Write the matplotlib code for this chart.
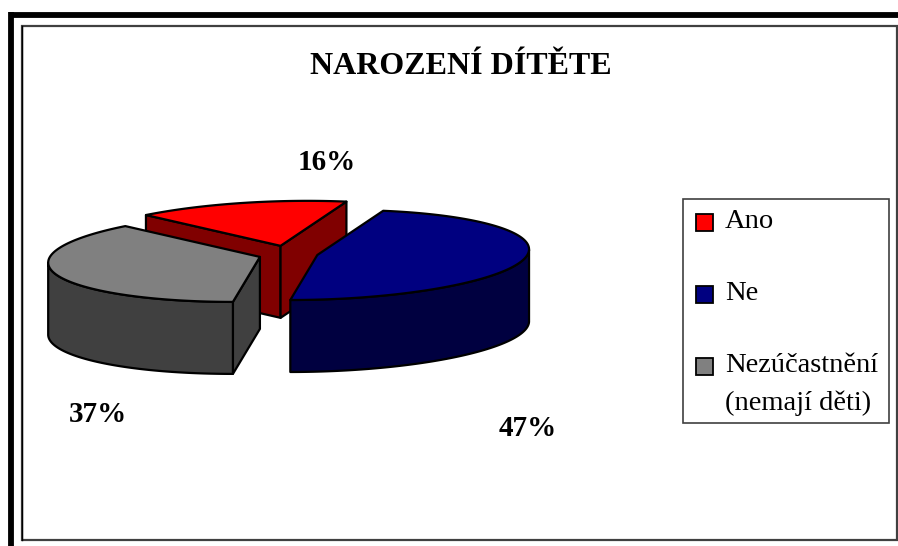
import numpy as np
import matplotlib
matplotlib.use("Agg")
import matplotlib.pyplot as plt
from matplotlib.patches import Polygon, Rectangle

# ---------------- data ----------------
title = "NAROZENÍ DÍTĚTE"
categories = ["Ano", "Ne", "Nezúčastnění\n(nemají děti)"]
values = [16, 47, 37]
pct_labels = ["16%", "47%", "37%"]
top_colors = ["#FF0000", "#000080", "#808080"]
side_colors = ["#800000", "#000040", "#404040"]

# ---------------- layout ----------------
W, H = 898, 546
fig = plt.figure(figsize=(W / 100, H / 100), dpi=100)
ax = fig.add_axes([0, 0, 1, 1])
ax.set_xlim(0, W)
ax.set_ylim(H, 0)
ax.axis("off")

SERIF = ["Liberation Serif", "DejaVu Serif"]

# frames
ax.add_patch(Rectangle((22, 25.5), 874.5, 514, fill=False, ec="#404040", lw=1.6, zorder=1))
ax.plot([22, 22], [25.5, 539.5], color="black", lw=1.0, zorder=1)
ax.plot([10.5, W], [14.5, 14.5], color="black", lw=4.2, solid_capstyle="butt", zorder=1)
ax.plot([10.5, 10.5], [12.4, H], color="black", lw=4.2, solid_capstyle="butt", zorder=1)

ax.text(461, 66, title, ha="center", va="center", fontsize=23, fontweight="bold",
        family=SERIF, color="black")

# 3D pie projection parameters (pixel space)
CX, CY = 288.4, 254.4      # centre of the pie top
A, K, B = 210.0, 27.0, 45.0  # x-scale, depth skew, y-scale (radius = 1)
DEPTH = 72.0               # pie thickness
explode = [0.2, 0.14, 0.14]
START = 313.2              # first slice starts here (deg, clockwise from back)


def proj(X, Z, down=0.0):
    X = np.asarray(X, dtype=float)
    Z = np.asarray(Z, dtype=float)
    return np.column_stack([CX + A * X + K * Z, CY - B * Z + down])


def visible_wall(t):
    # outer wall normal (sin t, cos t); view direction (-K/A, 1)
    return np.cos(t) - (K / A) * np.sin(t) < 0


total = float(sum(values))
angles = []
a0 = START
for v in values:
    a1 = a0 + 360.0 * v / total
    angles.append((a0, a1))
    a0 = a1

slices = []
for i, (t1, t2) in enumerate(angles):
    mid = np.radians((t1 + t2) / 2)
    ox, oz = explode[i] * np.sin(mid), explode[i] * np.cos(mid)
    slices.append((oz, i, t1, t2, ox))

# draw back slices first
for oz, i, t1, t2, ox in sorted(slices, key=lambda s: -s[0]):
    ts = np.radians(np.linspace(t1, t2, 300))
    rimX, rimZ = ox + np.sin(ts), oz + np.cos(ts)
    top_arc = proj(rimX, rimZ)
    bot_arc = proj(rimX, rimZ, DEPTH)
    c_top = proj([ox], [oz])[0]
    c_bot = proj([ox], [oz], DEPTH)[0]
    ec = dict(ec="black", lw=1.6, joinstyle="round", zorder=3)

    # radial faces
    r1, r2 = np.radians(t1), np.radians(t2)
    n1 = (-np.cos(r1), np.sin(r1))
    n2 = (np.cos(r2), -np.sin(r2))
    for n, idx in ((n1, 0), (n2, -1)):
        if -(K / A) * n[0] + n[1] < 0:
            quad = [c_top, top_arc[idx], bot_arc[idx], c_bot]
            ax.add_patch(Polygon(quad, closed=True, fc=side_colors[i], **ec))

    # outer wall (front-facing part)
    vis = visible_wall(ts)
    if vis.any():
        idxs = np.where(vis)[0]
        seg_top = top_arc[idxs]
        seg_bot = bot_arc[idxs]
        wall = np.vstack([seg_top, seg_bot[::-1]])
        ax.add_patch(Polygon(wall, closed=True, fc=side_colors[i], **ec))

    # top face
    top = np.vstack([[c_top], top_arc])
    ax.add_patch(Polygon(top, closed=True, fc=top_colors[i], **ec))

# percentage labels
label_pos = [(327, 163), (528, 428), (98, 414)]
for lab, (x, y) in zip(pct_labels, label_pos):
    ax.text(x, y, lab, ha="center", va="center", fontsize=21, fontweight="bold",
            family=SERIF, color="black")

# legend
ax.add_patch(Rectangle((683, 199), 206, 224, fill=False, ec="#404040", lw=1.2, zorder=4))
leg_y = [222, 294, 366]
for cat, col, y in zip(categories, top_colors, leg_y):
    ax.add_patch(Rectangle((696, y - 8.5), 17, 17, fc=col, ec="black", lw=1.3, zorder=5))
    lines = cat.split("\n")
    for j, ln in enumerate(lines):
        ax.text(725, y + j * 37, ln, ha="left", va="center", fontsize=20.5,
                family=SERIF, color="black", zorder=5)

fig.savefig("out.png", dpi=100)
